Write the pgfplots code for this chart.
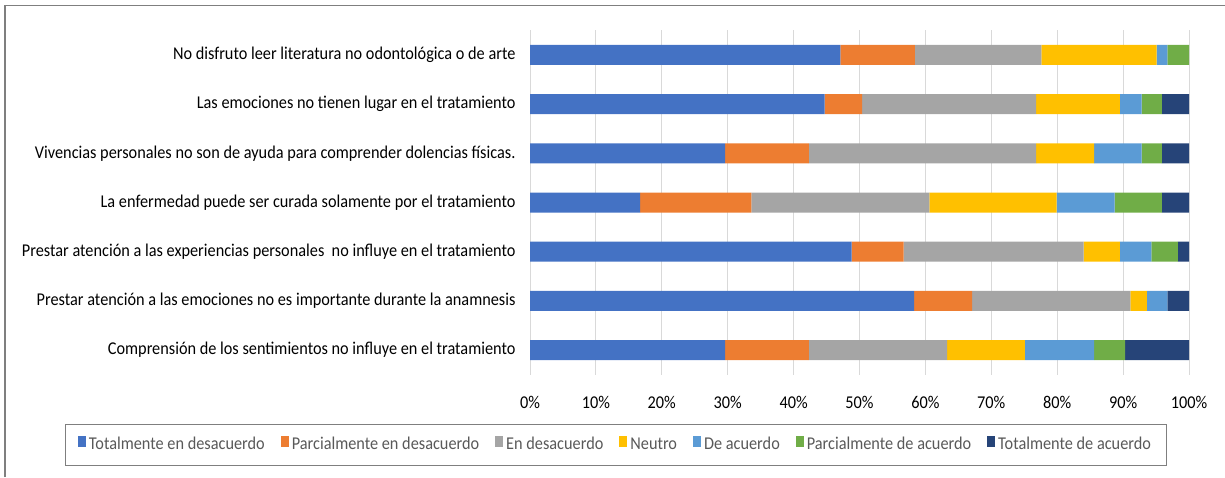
\documentclass[border=0pt]{standalone}
\usepackage{pgfplots}
\pgfplotsset{compat=1.18}
\usepackage{fontspec}
\setmainfont{Carlito}[FakeStretch=0.905]
\definecolor{c1}{HTML}{4472C4}
\definecolor{c2}{HTML}{ED7D31}
\definecolor{c3}{HTML}{A5A5A5}
\definecolor{c4}{HTML}{FFC000}
\definecolor{c5}{HTML}{5B9BD5}
\definecolor{c6}{HTML}{70AD47}
\definecolor{c7}{HTML}{264478}
\definecolor{frame}{HTML}{7F7F7F}
\definecolor{legtext}{HTML}{595959}
\begin{document}
\begin{tikzpicture}[x=1pt,y=1pt]
\useasboundingbox (0,0) rectangle (1225,477);
\draw[frame, line width=1.5pt] (5,0) -- (5,471.5) -- (1225,471.5);
\begin{axis}[
  at={(530pt,102.4pt)}, anchor=south west,
  width=659pt, height=344.2pt, scale only axis,
  xbar stacked, bar width=20pt,
  xmin=0, xmax=100, ymin=-0.5, ymax=6.5,
  xtick={0,10,...,100},
  xticklabel={\pgfmathprintnumber{\tick}\%},
  ytick={0,...,6},
  yticklabels={
    Comprensión de los sentimientos no influye en el tratamiento,
    Prestar atención a las emociones no es importante durante la anamnesis\ ,
    Prestar atención a las experiencias personales\ \ no influye en el tratamiento,
    La enfermedad puede ser curada solamente por el tratamiento\ ,
    Vivencias personales no son de ayuda para comprender dolencias físicas.,
    Las emociones no tienen lugar en el tratamiento,
    No disfruto leer literatura no odontológica o de arte},
  axis line style={draw=none},
  major tick length=0pt,
  xmajorgrids, grid style={color=black!15, line width=1pt},
  tick label style={font=\fontsize{18}{20}\selectfont, text=black},
  /pgf/number format/assume math mode=true,
  xticklabel style={yshift=-18.5pt},
  yticklabel style={xshift=-11pt},
  legend columns=7,
  legend style={at={(0.1305,-0.2045)}, anchor=center, draw=frame, line width=1pt,
    font=\fontsize{18}{20}\selectfont, text=legtext,
    nodes={text height=0.7em, text depth=0.2em, inner xsep=3pt},
    /tikz/every even column/.append style={column sep=13pt},
    inner xsep=12pt, inner ysep=12pt},
  legend image code/.code={\draw[#1, draw=none] (0pt,0pt) rectangle (8pt,10.5pt);},
]
\addplot[fill=c1, draw=none] coordinates {(29.6,0) (58.3,1) (48.8,2) (16.7,3) (29.6,4) (44.7,5) (47.1,6)};
\addplot[fill=c2, draw=none] coordinates {(12.7,0) (8.8,1) (7.9,2) (16.9,3) (12.7,4) (5.7,5) (11.3,6)};
\addplot[fill=c3, draw=none] coordinates {(21.0,0) (24.0,1) (27.3,2) (27.0,3) (34.5,4) (26.4,5) (19.2,6)};
\addplot[fill=c4, draw=none] coordinates {(11.8,0) (2.5,1) (5.5,2) (19.3,3) (8.8,4) (12.7,5) (17.5,6)};
\addplot[fill=c5, draw=none] coordinates {(10.5,0) (3.1,1) (4.8,2) (8.8,3) (7.2,4) (3.3,5) (1.6,6)};
\addplot[fill=c6, draw=none] coordinates {(4.7,0) (0,1) (4.0,2) (7.2,3) (3.1,4) (3.1,5) (3.3,6)};
\addplot[fill=c7, draw=none] coordinates {(9.7,0) (3.3,1) (1.7,2) (4.1,3) (4.1,4) (4.1,5) (0,6)};
\legend{Totalmente en desacuerdo, Parcialmente en desacuerdo, En desacuerdo, Neutro, De acuerdo, Parcialmente de acuerdo, Totalmente de acuerdo}
\end{axis}
\end{tikzpicture}
\end{document}
